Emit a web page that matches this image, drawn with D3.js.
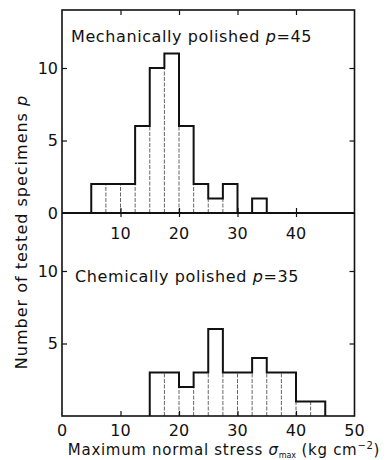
<!DOCTYPE html>
<html>
<head>
<meta charset="utf-8">
<script src="https://cdn.jsdelivr.net/npm/d3@7"></script>
<style>
  body { margin: 0; background: #fff; }
  svg { display: block; font-family: 'DejaVu Sans', sans-serif; }
</style>
</head>
<body>
<div id="chart"></div>
<script>
// bin edges: 2.5 kg/cm2 wide
const mechStart = 5;
const mechCounts = [2, 2, 2, 6, 10, 11, 6, 2, 1, 2, 0, 1];
const chemStart = 15;
const chemCounts = [3, 3, 2, 3, 6, 3, 3, 4, 3, 3, 1, 1];
const binWidth = 2.5;
const xTicks = [0, 10, 20, 30, 40, 50];
const yTicks = [0, 5, 10];
const mechLabel = 'Mechanically polished';
const chemLabel = 'Chemically polished';
const mechN = 45;
const chemN = 35;

const width = 389, height = 460;
const svg = d3.select('#chart').append('svg')
  .attr('width', width).attr('height', height);

const x = d3.scaleLinear().domain([0, 50]).range([62, 354.5]);
const yTop = d3.scaleLinear().domain([0, 14]).range([213, 10]);
const yBot = d3.scaleLinear().domain([0, 14]).range([416, 213]);

function toBins(start, counts) {
  return counts.map((c, i) => ({ x0: start + i * binWidth, x1: start + (i + 1) * binWidth, c }));
}

function drawHist(bins, y) {
  const g = svg.append('g');
  // thin inner dividers between adjacent bars
  const divs = [];
  for (let i = 0; i < bins.length - 1; i++) {
    const h = Math.min(bins[i].c, bins[i + 1].c);
    if (h > 0) divs.push({ x: bins[i].x1, h });
  }
  g.selectAll('line.div').data(divs).join('line')
    .attr('x1', d => x(d.x)).attr('x2', d => x(d.x))
    .attr('y1', y(0)).attr('y2', d => y(d.h))
    .attr('stroke', '#555').attr('stroke-width', 0.9)
    .attr('stroke-dasharray', '4,1.5');
  const pts = [[bins[0].x0, 0]];
  bins.forEach(b => { pts.push([b.x0, b.c]); pts.push([b.x1, b.c]); });
  pts.push([bins[bins.length - 1].x1, 0]);
  const line = d3.line().x(d => x(d[0])).y(d => y(d[1]));
  g.append('path').attr('d', line(pts))
    .attr('fill', 'none').attr('stroke', '#111').attr('stroke-width', 2)
    .attr('stroke-linejoin', 'miter');
}

drawHist(toBins(mechStart, mechCounts), yTop);
drawHist(toBins(chemStart, chemCounts), yBot);

// frame
const frame = svg.append('g').attr('stroke', '#111').attr('fill', 'none');
frame.append('rect')
  .attr('x', x(0)).attr('y', yTop(14))
  .attr('width', x(50) - x(0)).attr('height', yBot(0) - yTop(14))
  .attr('stroke-width', 1.6);
frame.append('line')
  .attr('x1', x(0)).attr('x2', x(50))
  .attr('y1', yTop(0)).attr('y2', yTop(0))
  .attr('stroke-width', 2);

// axes with inward ticks
const inner = xTicks.filter(t => t > 0 && t < 50);
svg.append('g').attr('transform', `translate(0,${yBot(0)})`)
  .call(d3.axisBottom(x).tickValues(inner).tickSize(-5).tickFormat(''))
  .call(g => g.select('.domain').remove());
svg.append('g').attr('transform', `translate(0,${yTop(0)})`)
  .call(d3.axisBottom(x).tickValues(inner).tickSize(-5).tickFormat(''))
  .call(g => g.select('.domain').remove());
svg.append('g').attr('transform', `translate(0,${yTop(0)})`)
  .call(d3.axisTop(x).tickValues(inner).tickSize(-4).tickFormat(''))
  .call(g => g.select('.domain').remove());
svg.append('g').attr('transform', `translate(0,${yTop(14)})`)
  .call(d3.axisTop(x).tickValues(inner).tickSize(-5).tickFormat(''))
  .call(g => g.select('.domain').remove());
[yTop, yBot].forEach(y => {
  svg.append('g').attr('transform', `translate(${x(0)},0)`)
    .call(d3.axisLeft(y).tickValues([5, 10]).tickSize(-5).tickFormat(''))
    .call(g => g.select('.domain').remove());
  svg.append('g').attr('transform', `translate(${x(50)},0)`)
    .call(d3.axisRight(y).tickValues([5, 10]).tickSize(-5).tickFormat(''))
    .call(g => g.select('.domain').remove());
});
svg.selectAll('.tick line').attr('stroke', '#111').attr('stroke-width', 1.2);

const txt = svg.append('g').attr('fill', '#111').attr('font-size', 16);
// y tick labels
txt.selectAll('text.yt').data(yTicks).join('text')
  .attr('x', 58).attr('y', d => yTop(d)).attr('dy', '0.36em')
  .attr('text-anchor', 'end').text(d => d);
txt.selectAll('text.yb').data(yTicks.filter(d => d > 0)).join('text')
  .attr('x', 58).attr('y', d => yBot(d)).attr('dy', '0.36em')
  .attr('text-anchor', 'end').text(d => d);
// x tick labels
txt.selectAll('text.xt').data(inner).join('text')
  .attr('x', d => x(d)).attr('y', yTop(0) + 26)
  .attr('text-anchor', 'middle').text(d => d);
txt.selectAll('text.xb').data(xTicks).join('text')
  .attr('x', d => x(d)).attr('y', yBot(0) + 20)
  .attr('text-anchor', 'middle').text(d => d);

// panel labels
function panelLabel(label, n, px, py) {
  const t = txt.append('text').attr('x', px).attr('y', py)
    .attr('font-size', 16).attr('letter-spacing', 0.6);
  t.append('tspan').text(label + ' ');
  t.append('tspan').attr('font-style', 'italic').text('p');
  t.append('tspan').text('=' + n);
}
panelLabel(mechLabel, mechN, 71, 42);
panelLabel(chemLabel, chemN, 75, 282);

// axis titles
const xt = txt.append('text').attr('x', 224).attr('y', 455)
  .attr('text-anchor', 'middle').attr('font-size', 15).attr('letter-spacing', 0.7);
xt.append('tspan').text('Maximum normal stress ');
xt.append('tspan').attr('font-style', 'italic').text('σ');
xt.append('tspan').attr('font-size', 8).attr('dy', 3).attr('letter-spacing', 0).text('max');
xt.append('tspan').attr('dy', -3).text(' (kg cm');
xt.append('tspan').attr('font-size', 10).attr('dy', -6).text('−2');
xt.append('tspan').attr('dy', 6).text(')');

const yt = txt.append('text')
  .attr('transform', `translate(27,232) rotate(-90)`)
  .attr('text-anchor', 'middle').attr('font-size', 16).attr('letter-spacing', 1);
yt.append('tspan').text('Number of tested specimens ');
yt.append('tspan').attr('font-style', 'italic').text('p');
</script>
</body>
</html>
